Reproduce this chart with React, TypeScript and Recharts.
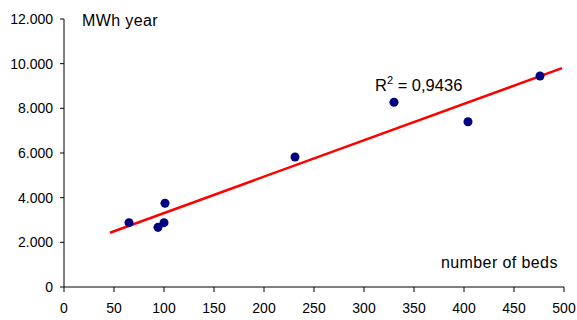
import React from 'react';
import { ComposedChart, Scatter, Line, XAxis, YAxis } from 'recharts';

// beds vs. yearly consumption (MWh)
const beds = [65, 94, 100, 101, 231, 330, 404, 476];
const mwh = [2880, 2670, 2880, 3750, 5820, 8270, 7400, 9450];

// linear trend line end points
const trendBeds = [46, 498];
const trendMwh = [2430, 9800];

const xTicks = [0, 50, 100, 150, 200, 250, 300, 350, 400, 450, 500];
const yTicks = [0, 2000, 4000, 6000, 8000, 10000, 12000];

const points = beds.map((b, i) => ({ x: b, y: mwh[i] }));
const trend = trendBeds.map((b, i) => ({ x: b, y: trendMwh[i] }));

const fmt = (v: number) => v.toLocaleString('de-DE');

const font = 'Arial, "Liberation Sans", sans-serif';

const App = () => {
  return (
    <div style={{ position: 'absolute', left: 0, top: 0, width: 577, height: 320, fontFamily: font }}>
      <ComposedChart width={577} height={320} margin={{ top: 19, right: 13, bottom: 0, left: 0 }}>
        <XAxis
          type="number"
          dataKey="x"
          domain={[0, 500]}
          ticks={xTicks}
          height={33}
          stroke="#000"
          tick={{ fill: '#000', fontSize: 14, fontFamily: font }}
          tickSize={5}
          tickMargin={11}
          allowDuplicatedCategory={false}
        />
        <YAxis
          type="number"
          dataKey="y"
          domain={[0, 12000]}
          ticks={yTicks}
          width={64}
          stroke="#000"
          tick={{ fill: '#000', fontSize: 14, fontFamily: font }}
          tickFormatter={fmt}
          tickSize={4}
          tickMargin={7}
        />
        <Line
          data={trend}
          dataKey="y"
          type="linear"
          stroke="#ff0000"
          strokeWidth={2.5}
          dot={false}
          isAnimationActive={false}
        />
        <Scatter data={points} dataKey="y" fill="#000080" shape="circle" isAnimationActive={false} />
      </ComposedChart>
      {/* axis titles and R² note */}
      <div style={{ position: 'absolute', left: 82, top: 12, fontSize: 16, letterSpacing: 0.4, color: '#000' }}>MWh year</div>
      <div style={{ position: 'absolute', left: 441, top: 254, fontSize: 16, letterSpacing: 0.4, color: '#000' }}>number of beds</div>
      <div style={{ position: 'absolute', left: 375, top: 74, fontSize: 16.5, color: '#000' }}>
        R<sup style={{ fontSize: 11 }}>2</sup> = 0,9436
      </div>
    </div>
  );
};

export default App;
